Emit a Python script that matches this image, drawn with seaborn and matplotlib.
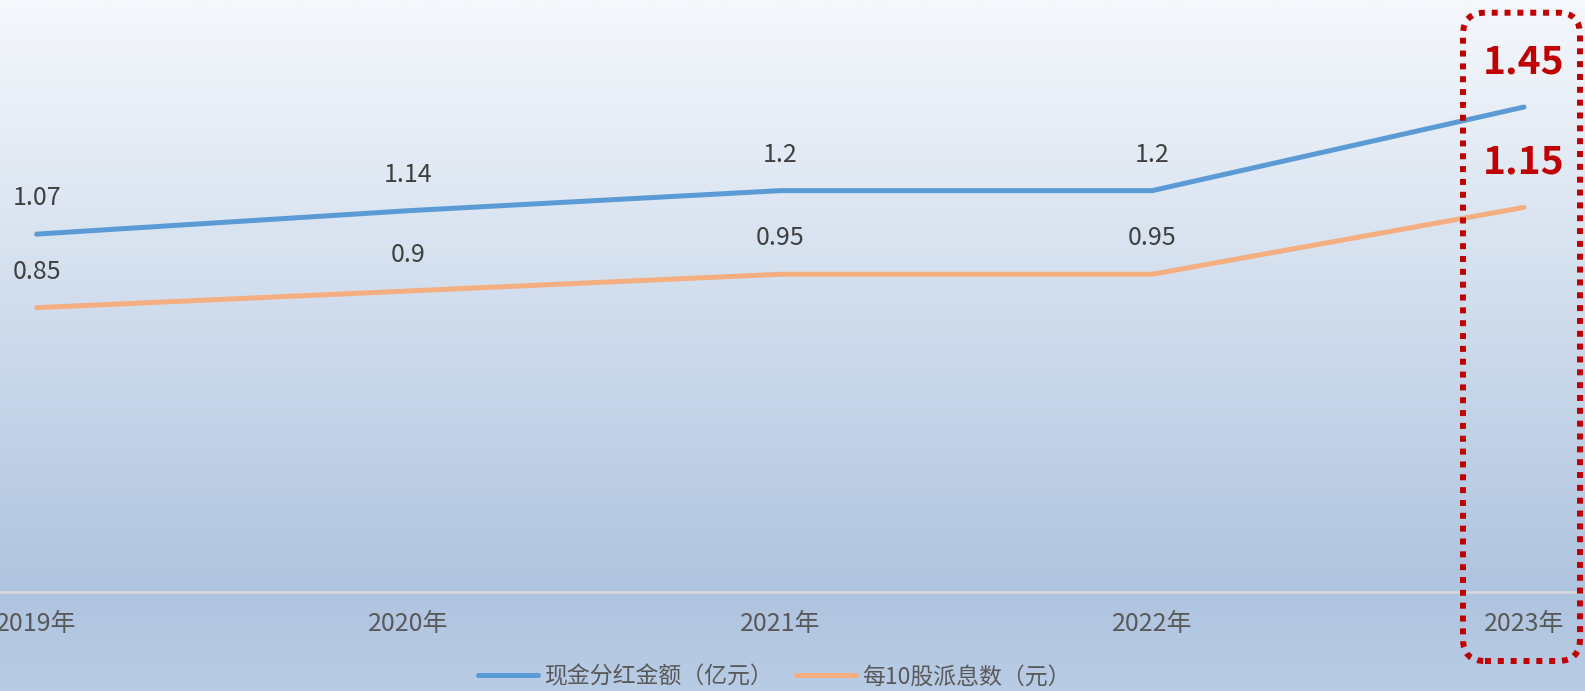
import numpy as np
import pandas as pd
import seaborn as sns
import matplotlib.pyplot as plt
from matplotlib.patches import FancyBboxPatch
from matplotlib.transforms import IdentityTransform
from matplotlib.colors import LinearSegmentedColormap

years = ['2019年', '2020年', '2021年', '2022年', '2023年']
cash_dividend = [1.07, 1.14, 1.2, 1.2, 1.45]
per_10_shares = [0.85, 0.9, 0.95, 0.95, 1.15]
series_names = ['现金分红金额（亿元）', '每10股派息数（元）']
colors = ['#5b9bd5', '#f4ae80']

sns.set_theme(style='white')
plt.rcParams['font.family'] = ['Noto Sans CJK SC', 'DejaVu Sans']

W, H = 1585, 691
fig = plt.figure(figsize=(W / 100, H / 100), dpi=100)

# gradient background (light at top, steel blue at bottom)
bg = fig.add_axes([0, 0, 1, 1], zorder=0)
cmap = LinearSegmentedColormap.from_list(
    'bg', [(0, '#b9cce6'), (99 / H, '#afc4df'), (1, '#f5f8fc')])
bg.imshow(np.linspace(0, 1, 512).reshape(-1, 1), origin='lower', aspect='auto',
          extent=[0, 1, 0, 1], cmap=cmap)
bg.axis('off')

ax = fig.add_axes([0, 99 / H, 1, 592 / H], zorder=1)
ax.patch.set_alpha(0)

df = pd.DataFrame({
    'year': years * 2,
    'value': cash_dividend + per_10_shares,
    'series': [series_names[0]] * len(years) + [series_names[1]] * len(years),
})
sns.lineplot(data=df, x='year', y='value', hue='series', palette=colors,
             linewidth=3.6, sort=False, ax=ax, solid_capstyle='round')

# value labels
for vals in (cash_dividend, per_10_shares):
    for i, v in enumerate(vals[:-1]):
        ax.annotate(f'{v:g}', (i, v), xytext=(0, 26), textcoords='offset points',
                    ha='center', va='center', fontsize=18, color='#404040')
    ax.annotate(f'{vals[-1]:g}', (len(vals) - 1, vals[-1]), xytext=(0, 32.5),
                textcoords='offset points', ha='center', va='center',
                fontsize=28, fontweight='bold', color='#c00000')

ax.set_xlim(-36.7 / 371.8, 4 + (W - 1524) / 371.8)
ax.set_ylim(0, 1.77)
ax.set_xticks(range(len(years)), years)
ax.set_yticks([])
ax.set_xlabel('')
ax.set_ylabel('')
ax.tick_params(axis='x', length=0, pad=14, labelsize=18, labelcolor='#595959')
for s in ['top', 'left', 'right']:
    ax.spines[s].set_visible(False)
ax.spines['bottom'].set_color('#d9d9d9')
ax.spines['bottom'].set_linewidth(1.8)

handles, labels = ax.get_legend_handles_labels()
leg = ax.legend(handles, labels, loc='center', bbox_to_anchor=(774.5 / W, 14 / H),
                bbox_transform=fig.transFigure, ncol=2, frameon=False, fontsize=16.5,
                handlelength=2.6, handletextpad=0.3, columnspacing=1.0)
for t in leg.get_texts():
    t.set_color('#595959')

# dotted red highlight box around 2023
box = FancyBboxPatch((1463, 30), 1580 - 1463, 678.3 - 30,
                     boxstyle='round,pad=0,rounding_size=22', transform=IdentityTransform(),
                     fill=False, edgecolor='#c00000', linewidth=4.3,
                     linestyle=(0, (1, 1.15)), capstyle='butt', zorder=5)
fig.patches.append(box)

fig.savefig('out.png', dpi=100)
